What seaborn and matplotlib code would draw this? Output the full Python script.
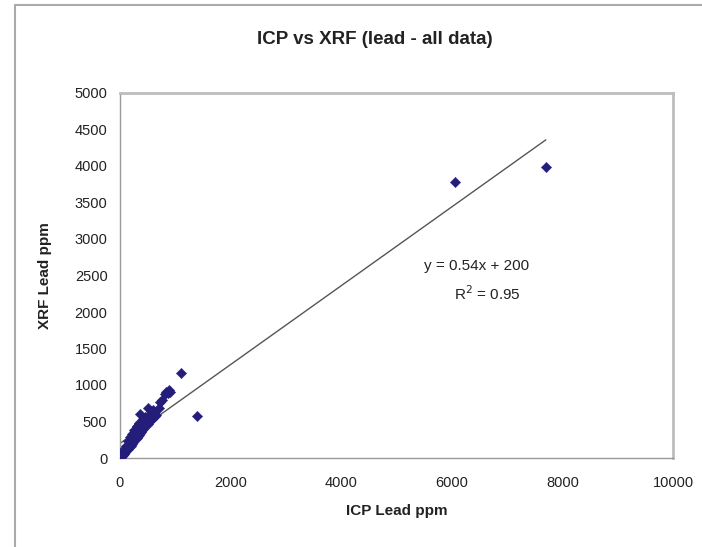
import matplotlib
matplotlib.use("Agg")
import matplotlib.pyplot as plt
import seaborn as sns
import numpy as np
import pandas as pd
from matplotlib.patches import Rectangle

# ---- data ----
icp = [7700, 6050, 1100, 1400,
       880, 860, 900, 840, 820, 760, 720, 700, 620, 600, 560, 540, 500, 450,
       420, 360, 350, 300, 640, 580, 660,
       30, 40, 50, 60, 70, 80, 90, 100, 110, 120, 130, 140, 150, 160, 170,
       180, 190, 200, 210, 220, 230, 240, 250, 260, 270, 280, 290, 300, 310,
       320, 330, 340, 350, 360, 370, 380, 390, 400, 410, 420, 430, 440, 450,
       460, 480, 500, 520, 540, 560, 580, 600,
       20, 60, 100, 140, 180, 220, 260, 300, 340, 380, 250, 320]
xrf = [3980, 3780, 1170, 580,
       930, 890, 910, 900, 880, 800, 770, 690, 610, 660, 640, 600, 680, 560,
       540, 600, 480, 420, 570, 620, 590,
       30, 50, 45, 70, 60, 90, 80, 110, 100, 130, 120, 150, 130, 170, 160,
       200, 170, 210, 190, 230, 250, 220, 270, 240, 290, 260, 310, 280, 330,
       300, 350, 320, 380, 340, 400, 360, 420, 380, 440, 400, 460, 430, 480,
       450, 500, 470, 530, 510, 560, 540, 580,
       40, 110, 170, 230, 290, 330, 380, 440, 470, 500, 330, 420]
trend_slope = 0.54
trend_intercept = 200
eq_text = "y = 0.54x + 200"
r2_text = "R$^2$ = 0.95"

x_ticks = [0, 2000, 4000, 6000, 8000, 10000]
y_ticks = [0, 500, 1000, 1500, 2000, 2500, 3000, 3500, 4000, 4500, 5000]

df = pd.DataFrame({"ICP": icp, "XRF": xrf})

sns.set_style("white")
plt.rcParams["font.family"] = ["Liberation Sans", "DejaVu Sans"]

W, H = 702, 547
fig = plt.figure(figsize=(W / 100, H / 100), dpi=100)
ax = fig.add_axes([120 / W, 1 - 458 / H, (673 - 120) / W, (458 - 93) / H])

grey = "#bdbdbd"
# trend line
tx = np.array([0, max(icp)])
trend = pd.DataFrame({"x": tx, "y": trend_slope * tx + trend_intercept})
sns.lineplot(data=trend, x="x", y="y", ax=ax, color="#555555", linewidth=1.0,
             zorder=2)

sns.scatterplot(data=df, x="ICP", y="XRF", ax=ax, marker="D", s=28,
                color="#241d7a", edgecolor="#241d7a", linewidth=0.3, zorder=3)

ax.set_xlim(0, 10000)
ax.set_ylim(0, 5000)
ax.set_xticks(x_ticks)
ax.set_yticks(y_ticks)
ax.tick_params(axis="both", direction="out", length=5, width=1, color="#999999",
               labelsize=10.5, labelcolor="#222222", pad=4)
ax.tick_params(axis="x", pad=8)
for side in ["left", "bottom"]:
    ax.spines[side].set_color("#999999")
    ax.spines[side].set_linewidth(1.0)
for side in ["top", "right"]:
    ax.spines[side].set_color(grey)
    ax.spines[side].set_linewidth(2.0)

ax.set_xlabel("ICP Lead ppm", fontsize=11, fontweight="bold", color="#222222",
              labelpad=10)
ax.set_ylabel("XRF Lead ppm", fontsize=11, fontweight="bold", color="#222222",
              labelpad=16)

ax.text(6450, 2630, eq_text, ha="center", va="center", fontsize=11,
        color="#222222")
ax.text(6650, 2250, r2_text, ha="center", va="center", fontsize=11,
        color="#222222")

fig.text(375 / W, 1 - 40 / H, "ICP vs XRF (lead - all data)", ha="center",
         va="center", fontsize=13.5, fontweight="bold", color="#222222")

# chart area frame
fig.patches.append(Rectangle((15 / W, -0.05), 1.0, 1 - 5 / H + 0.05,
                             transform=fig.transFigure, fill=False,
                             edgecolor="#aaaaaa", linewidth=1.5))

fig.savefig("out.png", dpi=100)
